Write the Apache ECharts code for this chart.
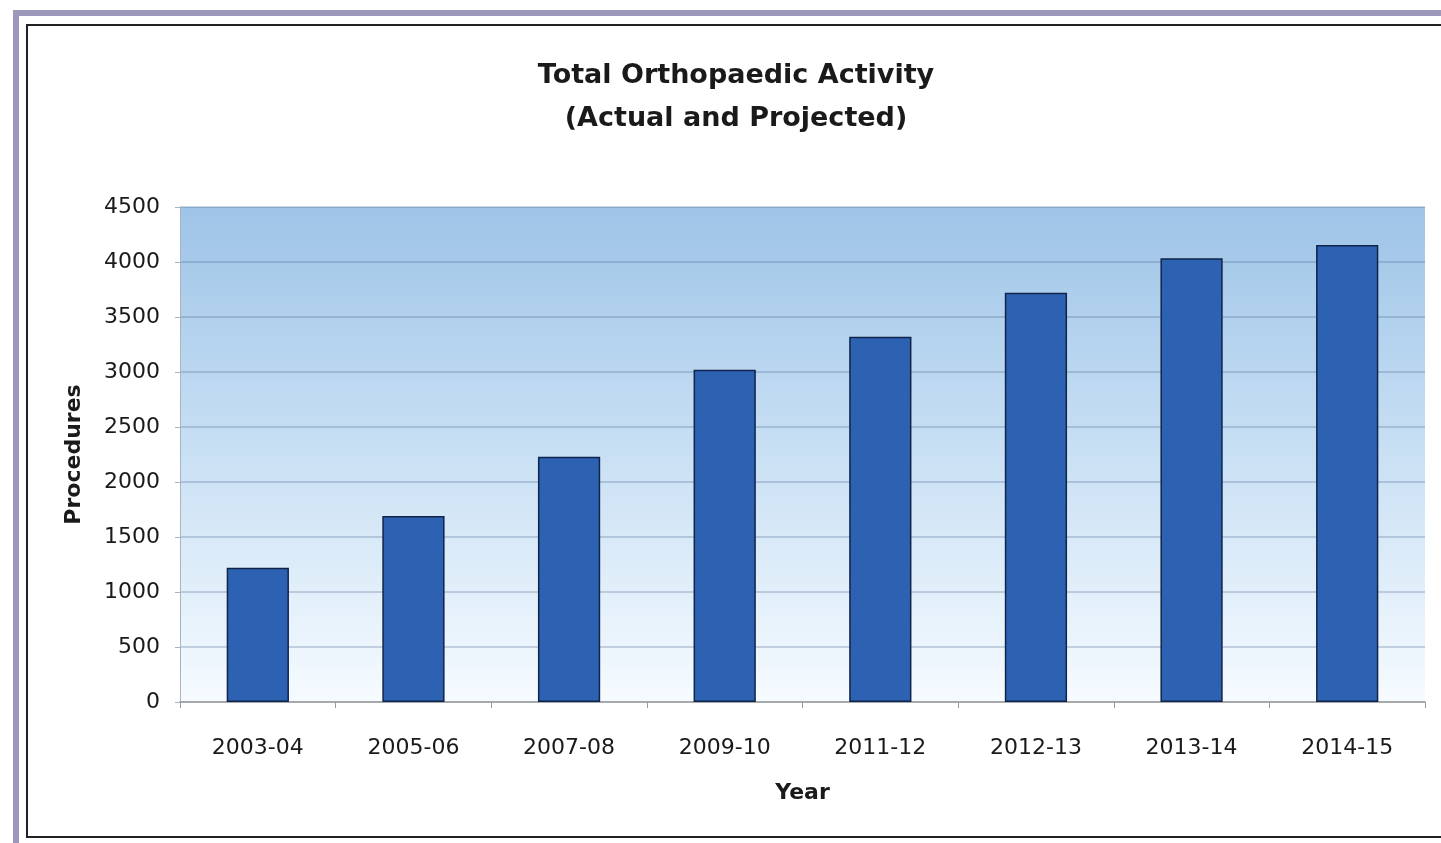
<!DOCTYPE html>
<html>
<head>
<meta charset="utf-8">
<script src="https://cdn.jsdelivr.net/npm/echarts@6/dist/echarts.min.js"></script>
<style>
html,body{margin:0;padding:0;background:#fff;}
#chart{width:1441px;height:843px;}
</style>
</head>
<body>
<div id="chart"></div>
<script>
const categories = ['2003-04','2005-06','2007-08','2009-10','2011-12','2012-13','2013-14','2014-15'];
const procedures = [1220, 1690, 2230, 3020, 3320, 3720, 4035, 4155];
const yTicks = {min: 0, max: 4500, interval: 500};

const chart = echarts.init(document.getElementById('chart'));
chart.setOption({
  animation: false,
  backgroundColor: '#ffffff',
  graphic: [
    {type:'rect', shape:{x:16, y:13, width:1440, height:840}, style:{fill:'none', stroke:'#9c98bb', lineWidth:6}, silent:true, z:-1},
    {type:'rect', shape:{x:27, y:25, width:1430, height:812}, style:{fill:'none', stroke:'#222222', lineWidth:2}, silent:true, z:-1}
  ],
  title: {
    text: 'Total Orthopaedic Activity\n(Actual and Projected)',
    left: 731, top: 49, textAlign: 'center',
    textStyle: {fontFamily: 'DejaVu Sans', fontWeight: 'bold', fontSize: 27, lineHeight: 43, color: '#1a1a1a'}
  },
  grid: {
    left: 180, right: 16, top: 207, bottom: 141,
    show: true, borderWidth: 0,
    backgroundColor: {type:'linear', x:0, y:0, x2:0, y2:1, colorStops:[
      {offset:0, color:'#9ec4e7'},
      {offset:0.5, color:'#c9e0f4'},
      {offset:1, color:'#f6fbff'}
    ]}
  },
  xAxis: {
    type: 'category',
    data: categories,
    name: 'Year',
    nameLocation: 'middle',
    nameGap: 80,
    nameTextStyle: {fontFamily: 'DejaVu Sans', fontWeight: 'bold', fontSize: 22, color: '#1a1a1a'},
    axisLine: {lineStyle: {color: '#9a9a9a', width: 1.5}},
    axisTick: {show: true, length: 6, lineStyle: {color: '#9a9a9a'}},
    axisLabel: {fontFamily: 'DejaVu Sans', fontSize: 22, color: '#1a1a1a', margin: 35}
  },
  yAxis: {
    type: 'value',
    min: yTicks.min, max: yTicks.max, interval: yTicks.interval,
    name: 'Procedures',
    nameLocation: 'middle',
    nameGap: 95,
    nameRotate: 90,
    nameTextStyle: {fontFamily: 'DejaVu Sans', fontWeight: 'bold', fontSize: 22, color: '#1a1a1a'},
    axisLine: {show: true, lineStyle: {color: '#a8b4c0', width: 1}},
    axisTick: {show: true, length: 5, lineStyle: {color: '#a8b4c0'}},
    axisLabel: {fontFamily: 'DejaVu Sans', fontSize: 22, color: '#1a1a1a', margin: 20, formatter: function (v) { return String(v); }},
    splitLine: {show: true, lineStyle: {color: 'rgba(70,100,140,0.35)', width: 1.5}}
  },
  series: [{
    type: 'bar',
    data: procedures,
    barWidth: '40%',
    itemStyle: {color: '#2d62b3', borderColor: '#10244a', borderWidth: 1.5}
  }]
});
</script>
</body>
</html>
